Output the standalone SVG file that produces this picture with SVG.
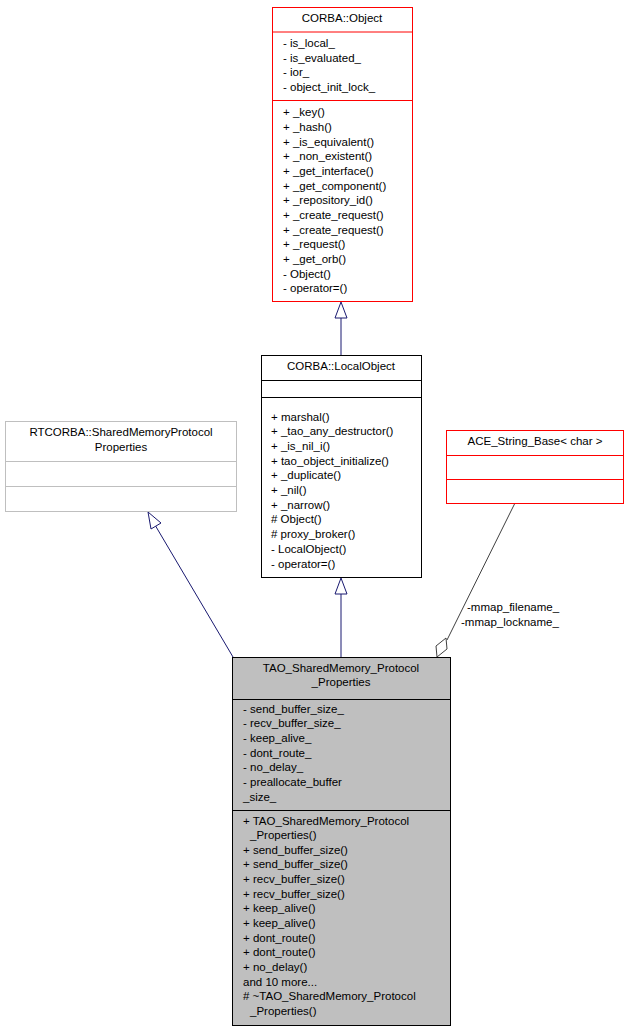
<svg xmlns="http://www.w3.org/2000/svg" width="629" height="1032" viewBox="0 0 629 1032">
<style>
text{font-family:"Liberation Sans",Arial,sans-serif;font-size:11.5px;fill:#000}
.c{text-anchor:middle}
.box{fill:#fff;stroke:#000}
.red{fill:#fff;stroke:#ff0000}
.grey{fill:#fff;stroke:#bfbfbf}
.main{fill:#bfbfbf;stroke:#000}
.e{fill:none;stroke:#191970}
</style>
<rect width="629" height="1032" fill="#fff"/>
<g id="edges">
<line class="e" x1="341" y1="355" x2="341" y2="317"/>
<polygon points="341,302 335,318 347,318" fill="#fff" stroke="#191970"/>
<line class="e" x1="341" y1="657" x2="341" y2="593"/>
<polygon points="341,578 335,594 347,594" fill="#fff" stroke="#191970"/>
<line class="e" x1="233" y1="657" x2="155" y2="525"/>
<polygon points="148,512 151,529 161,523" fill="#fff" stroke="#191970"/>
<line x1="515" y1="503" x2="447" y2="640" stroke="#404040" fill="none"/>
<polygon points="437,657 436,646 446,638 447,649" fill="#fff" stroke="#404040"/>
<text x="467" y="611">-mmap_filename_</text>
<text x="461" y="626">-mmap_lockname_</text>
</g>
<g id="obj">
<rect class="red" x="272.5" y="7.5" width="140" height="294"/>
<line x1="272.5" y1="32" x2="412.5" y2="32" stroke="#ff0000"/>
<line x1="272.5" y1="100.5" x2="412.5" y2="100.5" stroke="#ff0000"/>
<text class="c" x="342" y="22">CORBA::Object</text>
<text x="283" y="47">- is_local_</text>
<text x="283" y="62">- is_evaluated_</text>
<text x="283" y="76">- ior_</text>
<text x="283" y="91">- object_init_lock_</text>
<text x="283" y="116">+ _key()</text>
<text x="283" y="131">+ _hash()</text>
<text x="283" y="146">+ _is_equivalent()</text>
<text x="283" y="160">+ _non_existent()</text>
<text x="283" y="175">+ _get_interface()</text>
<text x="283" y="190">+ _get_component()</text>
<text x="283" y="204">+ _repository_id()</text>
<text x="283" y="219">+ _create_request()</text>
<text x="283" y="234">+ _create_request()</text>
<text x="283" y="248">+ _request()</text>
<text x="283" y="263">+ _get_orb()</text>
<text x="283" y="278">- Object()</text>
<text x="283" y="292">- operator=()</text>
</g>
<g id="local">
<rect class="box" x="261.5" y="355.5" width="160" height="222"/>
<line x1="261.5" y1="380.5" x2="421.5" y2="380.5" stroke="#000"/>
<line x1="261.5" y1="397.5" x2="421.5" y2="397.5" stroke="#000"/>
<text class="c" x="341" y="370">CORBA::LocalObject</text>
<text x="271" y="421">+ marshal()</text>
<text x="271" y="435">+ _tao_any_destructor()</text>
<text x="271" y="450">+ _is_nil_i()</text>
<text x="271" y="465">+ tao_object_initialize()</text>
<text x="271" y="479">+ _duplicate()</text>
<text x="271" y="494">+ _nil()</text>
<text x="271" y="509">+ _narrow()</text>
<text x="271" y="523"># Object()</text>
<text x="271" y="538"># proxy_broker()</text>
<text x="271" y="553">- LocalObject()</text>
<text x="271" y="568">- operator=()</text>
</g>
<g id="rtcorba">
<rect class="grey" x="5.5" y="421.5" width="231" height="90"/>
<line x1="5.5" y1="461.5" x2="236.5" y2="461.5" stroke="#bfbfbf"/>
<line x1="5.5" y1="486.5" x2="236.5" y2="486.5" stroke="#bfbfbf"/>
<text class="c" x="121" y="436">RTCORBA::SharedMemoryProtocol</text>
<text class="c" x="121" y="451">Properties</text>
</g>
<g id="ace">
<rect class="red" x="446.5" y="430.5" width="177" height="73"/>
<line x1="446.5" y1="455.5" x2="623.5" y2="455.5" stroke="#ff0000"/>
<line x1="446.5" y1="479.5" x2="623.5" y2="479.5" stroke="#ff0000"/>
<text class="c" x="535" y="445">ACE_String_Base&lt; char &gt;</text>
</g>
<g id="tao">
<rect class="main" x="232.5" y="657.5" width="218" height="368"/>
<line x1="232.5" y1="699.5" x2="450.5" y2="699.5" stroke="#000"/>
<line x1="232.5" y1="810.5" x2="450.5" y2="810.5" stroke="#000"/>
<text class="c" x="341" y="672">TAO_SharedMemory_Protocol</text>
<text class="c" x="341" y="686">_Properties</text>
<text x="243" y="713">- send_buffer_size_</text>
<text x="243" y="727">- recv_buffer_size_</text>
<text x="243" y="742">- keep_alive_</text>
<text x="243" y="757">- dont_route_</text>
<text x="243" y="771">- no_delay_</text>
<text x="243" y="786">- preallocate_buffer</text>
<text x="243" y="801">_size_</text>
<text x="243" y="825">+ TAO_SharedMemory_Protocol</text>
<text x="250" y="839">_Properties()</text>
<text x="243" y="854">+ send_buffer_size()</text>
<text x="243" y="868">+ send_buffer_size()</text>
<text x="243" y="883">+ recv_buffer_size()</text>
<text x="243" y="898">+ recv_buffer_size()</text>
<text x="243" y="912">+ keep_alive()</text>
<text x="243" y="927">+ keep_alive()</text>
<text x="243" y="942">+ dont_route()</text>
<text x="243" y="956">+ dont_route()</text>
<text x="243" y="971">+ no_delay()</text>
<text x="243" y="986">and 10 more...</text>
<text x="243" y="1000"># ~TAO_SharedMemory_Protocol</text>
<text x="250" y="1015">_Properties()</text>
</g>
</svg>
